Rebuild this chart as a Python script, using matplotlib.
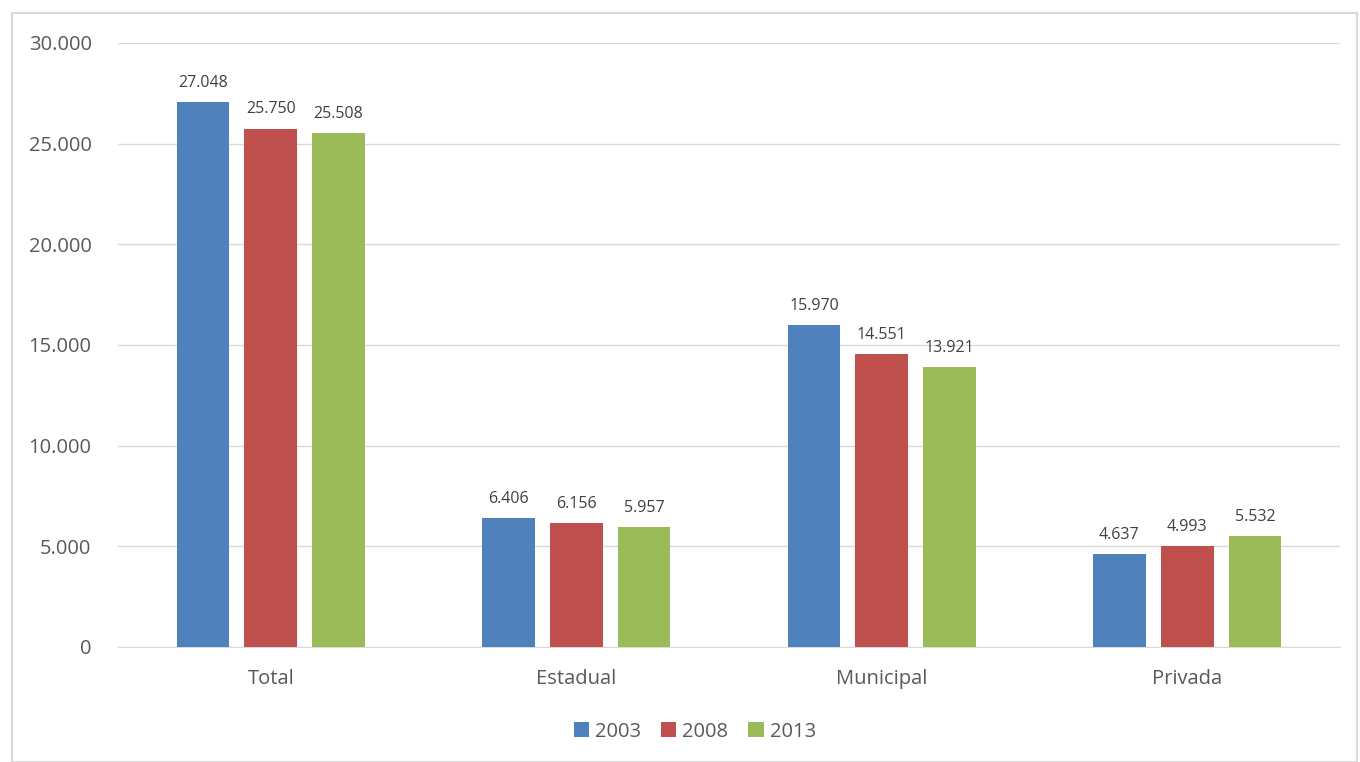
import matplotlib.pyplot as plt
import numpy as np
from matplotlib.patches import Rectangle

categories = ['Total', 'Estadual', 'Municipal', 'Privada']
years = ['2003', '2008', '2013']
v2003 = [27048, 6406, 15970, 4637]
v2008 = [25750, 6156, 14551, 4993]
v2013 = [25508, 5957, 13921, 5532]
colors = ['#4f81bd', '#c0504d', '#9bbb59']

plt.rcParams['font.family'] = ['Open Sans', 'DejaVu Sans']

fig = plt.figure(figsize=(13.6, 7.62), dpi=100)
ax = fig.add_axes([118 / 1360, 1 - 647 / 762, 1222 / 1360, 604 / 762])

# outer chart border
fig.patches.append(Rectangle((12 / 1360, 0), 1345 / 1360, 1 - 13 / 762,
                             transform=fig.transFigure, fill=False,
                             edgecolor='#d9d9d9', linewidth=1.5))

x = np.arange(len(categories))
w = 0.173
off = 0.222
for i, (vals, yr) in enumerate(zip([v2003, v2008, v2013], years)):
    bars = ax.bar(x + (i - 1) * off, vals, w, color=colors[i], label=yr, zorder=3)
    for b, v in zip(bars, vals):
        ax.text(b.get_x() + b.get_width() / 2, v + 550, f'{v:,}'.replace(',', '.'),
                ha='center', va='bottom', fontsize=11.5, color='#404040')

ax.set_xlim(-0.5, 3.5)
ax.set_ylim(0, 30000)
ax.set_yticks(range(0, 30001, 5000))
ax.set_yticklabels(['0' if t == 0 else f'{t:,}'.replace(',', '.') for t in range(0, 30001, 5000)])
ax.set_xticks(x)
ax.set_xticklabels(categories)
ax.grid(axis='y', color='#d9d9d9', linewidth=1, zorder=0)
for s in ['top', 'right', 'left']:
    ax.spines[s].set_visible(False)
ax.spines['bottom'].set_color('#d9d9d9')
ax.tick_params(axis='both', length=0, labelsize=14.5, colors='#595959')
ax.tick_params(axis='y', pad=19)
ax.tick_params(axis='x', pad=16)

ax.legend(loc='center', bbox_to_anchor=(0.472, -0.14), ncol=3, frameon=False,
          fontsize=14.5, labelcolor='#595959', handlelength=0.75, handleheight=0.75,
          handletextpad=0.3, columnspacing=1.0)

fig.savefig('out.png', dpi=100)
